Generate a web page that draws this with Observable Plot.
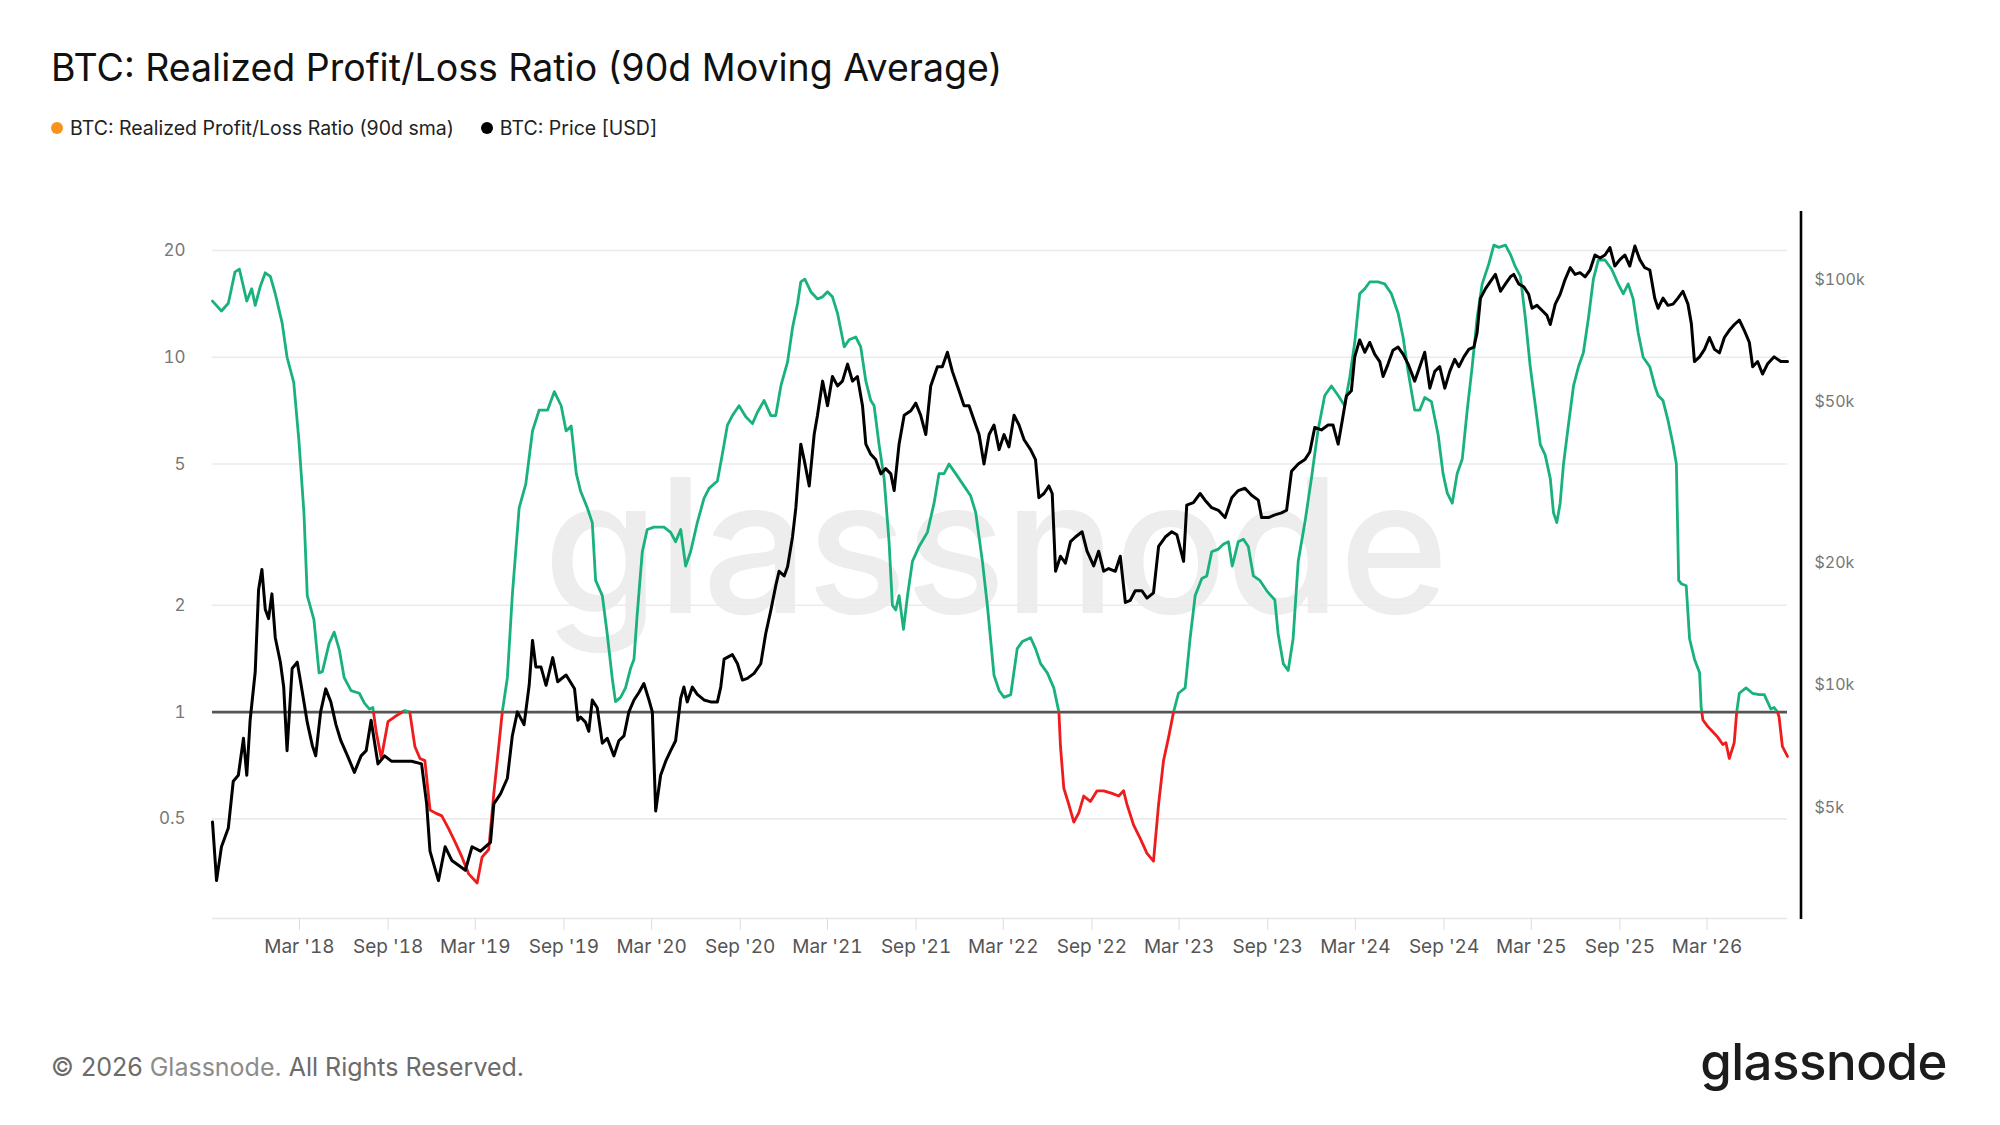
<!DOCTYPE html>
<html>
<head>
<meta charset="utf-8">
<script src="https://cdn.jsdelivr.net/npm/d3@7"></script>
<script src="https://cdn.jsdelivr.net/npm/@observablehq/plot@0.6"></script>
<style>
  html, body { margin: 0; padding: 0; background: #fff; }
  body { width: 2000px; height: 1125px; position: relative; overflow: hidden; font-family: Inter, "Noto Sans", sans-serif; }
  #title { position: absolute; left: 51px; top: 47px; font-size: 37.5px; line-height: 42px; color: #111; font-weight: 400; white-space: nowrap; }
  #legend { position: absolute; left: 51px; top: 116px; font-size: 19.5px; line-height: 24px; color: #222; white-space: nowrap; display: flex; }
  .item { display: flex; align-items: center; margin-right: 27px; }
  .dot { width: 12px; height: 12px; border-radius: 50%; display: inline-block; margin-right: 7px; }
  #watermark { position: absolute; left: 0; width: 1990px; top: 440px; text-align: center; font-size: 187px; line-height: 210px; font-weight: 500; color: #ededed; letter-spacing: -2px; }
  #chart { position: absolute; left: 0; top: 180px; }
  #footer { position: absolute; left: 51px; top: 1052px; font-size: 25px; line-height: 30px; color: #6b6b6b; white-space: nowrap; }
  #footer .gn { color: #8c8c8c; }
  #logo { position: absolute; right: 53px; top: 1030px; font-size: 51px; line-height: 64px; font-weight: 500; color: #1c1c1c; letter-spacing: -0.5px; }
</style>
</head>
<body>
<div id="watermark">glassnode</div>
<div id="title">BTC: Realized Profit/Loss Ratio (90d Moving Average)</div>
<div id="legend">
  <span class="item"><span class="dot" style="background:#f7931a"></span>BTC: Realized Profit/Loss Ratio (90d sma)</span>
  <span class="item"><span class="dot" style="background:#000"></span>BTC: Price [USD]</span>
</div>
<div id="chart"></div>
<div id="footer">© 2026 <span class="gn">Glassnode.</span> All Rights Reserved.</div>
<div id="logo">glassnode</div>
<script>
// ---- Data (time as decimal years) ----
const ratioT = [
2017.667,2017.718,2017.757,2017.795,2017.82,2017.862,2017.89,2017.91,2017.938,2017.967,2017.996,2018.024,2018.063,2018.091,2018.129,2018.158,2018.187,2018.206,2018.244,2018.273,2018.292,2018.33,2018.359,2018.388,2018.416,2018.455,2018.502,2018.531,2018.56,2018.579,2018.598,2018.627,2018.665,2018.703,2018.76,2018.789,2018.818,2018.847,2018.875,2018.904,2018.933,2018.971,2019.009,2019.047,2019.086,2019.124,2019.172,2019.2,2019.238,2019.267,2019.296,2019.315,2019.344,2019.372,2019.411,2019.449,2019.487,2019.525,2019.573,2019.611,2019.65,2019.678,2019.707,2019.736,
2019.76,2019.798,2019.827,2019.846,2019.884,2019.912,2019.94,2019.959,2019.988,2020.016,2020.045,2020.064,2020.082,2020.111,2020.139,2020.177,2020.234,2020.272,2020.3,2020.329,2020.357,2020.385,2020.423,2020.461,2020.49,2020.537,2020.565,2020.594,2020.622,2020.66,2020.698,2020.736,2020.764,2020.802,2020.84,2020.868,2020.897,2020.935,2020.963,2020.992,2021.01,2021.033,2021.067,2021.105,2021.134,2021.162,2021.19,2021.219,2021.257,2021.285,2021.323,2021.351,2021.38,2021.408,2021.427,2021.455,2021.484,2021.512,2021.531,2021.55,2021.569,2021.594,2021.617,2021.645,2021.683,2021.73,2021.768,2021.796,2021.825,2021.853,2021.891,2021.938,2021.976,2022.005,2022.043,2022.071,2022.109,2022.138,2022.166,2022.204,
2022.241,2022.27,2022.317,2022.345,2022.374,2022.412,2022.449,2022.478,2022.487,2022.506,2022.534,2022.563,2022.591,2022.619,2022.657,2022.695,2022.733,2022.78,2022.818,2022.846,2022.865,2022.903,2022.941,2022.979,2023.016,2023.045,2023.073,2023.102,2023.13,2023.158,2023.196,2023.224,2023.253,2023.291,2023.319,2023.347,2023.385,2023.413,2023.442,2023.464,2023.498,2023.527,2023.555,2023.584,2023.621,2023.659,2023.706,2023.725,2023.754,2023.782,2023.81,2023.839,2023.877,2023.914,2023.952,2023.99,2024.028,2024.066,2024.103,2024.132,2024.16,2024.188,2024.217,2024.245,2024.292,2024.33,2024.368,2024.406,2024.434,2024.463,2024.5,2024.529,2024.557,2024.595,2024.633,2024.661,
2024.685,2024.713,2024.741,2024.77,2024.798,2024.826,2024.854,2024.883,2024.92,2024.949,2024.977,2025.015,2025.043,2025.071,2025.1,2025.128,2025.156,2025.185,2025.213,2025.241,2025.27,2025.288,2025.307,2025.326,2025.345,2025.373,2025.402,2025.43,2025.458,2025.487,2025.515,2025.543,2025.581,2025.619,2025.656,2025.685,2025.713,2025.741,2025.77,2025.798,2025.836,2025.864,2025.883,2025.911,2025.939,2025.968,2025.987,2026.0,2026.015,2026.043,2026.062,2026.09,2026.119,2026.128,2026.138,2026.166,2026.194,2026.222,2026.251,2026.269,2026.288,2026.316,2026.33,2026.345,2026.383,2026.42,2026.458,2026.487,2026.524,2026.543,2026.562,2026.571,2026.59,2026.619
];
const ratioV = [
14.4,13.5,14.2,17.4,17.7,14.4,15.6,14.0,15.8,17.3,16.9,15.1,12.5,10.0,8.5,5.86,3.65,2.13,1.82,1.29,1.30,1.56,1.68,1.50,1.25,1.15,1.13,1.06,1.02,1.03,0.88,0.74,0.94,0.97,1.01,1.0,0.80,0.74,0.73,0.53,0.52,0.51,0.47,0.43,0.39,0.35,0.33,0.39,0.41,0.59,0.81,1.0,1.25,2.13,3.76,4.4,6.2,7.1,7.1,8.0,7.3,6.2,6.4,4.7,
4.2,3.77,3.42,2.35,2.13,1.66,1.25,1.07,1.10,1.17,1.33,1.41,1.88,2.83,3.27,3.32,3.32,3.21,3.02,3.27,2.58,2.83,3.42,4.0,4.27,4.48,5.33,6.44,6.85,7.3,6.8,6.5,7.0,7.55,6.85,6.85,8.3,9.7,12.1,14.2,16.3,16.6,15.3,14.6,14.8,15.3,14.8,13.3,10.7,11.2,11.4,10.7,8.56,7.55,7.3,5.68,4.55,3.02,2.0,1.94,2.13,1.71,2.13,2.66,2.93,3.21,3.88,4.7,4.7,5.0,4.7,4.34,4.07,3.65,2.66,2.0,1.27,1.15,1.10,1.12,
1.51,1.58,1.62,1.51,1.37,1.29,1.17,1.0,0.80,0.61,0.55,0.49,0.52,0.58,0.56,0.60,0.60,0.59,0.58,0.60,0.55,0.48,0.44,0.40,0.38,0.55,0.73,0.85,1.0,1.13,1.17,1.61,2.13,2.38,2.42,2.83,2.88,2.97,3.02,2.58,3.02,3.07,2.93,2.42,2.35,2.2,2.07,1.66,1.37,1.31,1.61,2.66,3.42,4.55,6.24,7.8,8.3,7.8,7.3,8.8,11,15.1,15.6,16.3,16.3,16.1,15.1,13.3,11.4,9.1,7.1,7.1,7.7,7.5,6.05,4.7,
4.14,3.88,4.7,5.17,7.1,9.4,12.9,16.1,18.3,20.7,20.4,20.7,19.5,18.0,16.9,12.9,9.4,7.3,5.68,5.3,4.55,3.65,3.42,3.88,5.0,6.44,8.3,9.4,10.3,12.9,16.6,18.8,18.8,17.7,16.1,15.1,16.1,14.6,11.7,10.0,9.4,8.3,7.8,7.55,6.65,5.68,5.0,2.35,2.3,2.27,1.61,1.41,1.29,1.03,0.95,0.91,0.88,0.85,0.81,0.82,0.74,0.82,1.0,1.13,1.17,1.13,1.12,1.12,1.02,1.03,1.0,0.97,0.80,0.75
];

const priceT = [
2017.667,2017.69,2017.718,2017.757,2017.785,2017.814,2017.843,2017.862,2017.881,2017.91,2017.929,2017.948,2017.967,2017.986,2018.005,2018.024,2018.053,2018.072,2018.091,2018.12,2018.149,2018.168,2018.187,2018.206,2018.235,2018.254,2018.282,2018.311,2018.34,2018.369,2018.397,2018.435,2018.474,2018.512,2018.541,2018.569,2018.608,2018.646,2018.684,2018.741,2018.799,2018.856,2018.885,2018.904,2018.952,2018.99,2019.028,2019.066,2019.105,2019.143,2019.191,2019.248,2019.267,2019.305,2019.344,2019.372,2019.401,2019.439,2019.468,2019.487,2019.506,2019.535,2019.564,2019.602,2019.63,2019.678,2019.726,2019.745,
2019.76,2019.789,2019.807,2019.827,2019.855,2019.884,2019.912,2019.95,2019.978,2020.007,2020.035,2020.064,2020.092,2020.12,2020.149,2020.168,2020.187,2020.215,2020.244,2020.272,2020.3,2020.329,2020.347,2020.366,2020.395,2020.423,2020.461,2020.499,2020.537,2020.556,2020.575,2020.622,2020.651,2020.679,2020.707,2020.745,2020.783,2020.811,2020.84,2020.868,2020.887,2020.916,2020.935,2020.963,2020.982,2021.01,2021.029,2021.058,2021.086,2021.105,2021.134,2021.162,2021.19,2021.219,2021.247,2021.276,2021.304,2021.332,2021.361,2021.38,2021.408,2021.436,2021.465,2021.493,2021.522,2021.541,2021.569,2021.598,2021.636,2021.664,2021.692,2021.721,2021.749,2021.787,2021.815,2021.844,2021.872,2021.91,2021.938,2021.967,2021.995,2022.024,2022.052,2022.081,2022.109,2022.138,2022.166,2022.194,2022.223,2022.251,2022.28,2022.317,
2022.345,2022.364,2022.393,2022.421,2022.44,2022.459,2022.487,2022.515,2022.544,2022.572,2022.61,2022.638,2022.676,2022.704,2022.733,2022.761,2022.799,2022.827,2022.856,2022.884,2022.912,2022.95,2022.979,2023.016,2023.045,2023.083,2023.12,2023.149,2023.187,2023.205,2023.243,2023.281,2023.309,2023.347,2023.385,2023.423,2023.461,2023.498,2023.536,2023.574,2023.612,2023.631,2023.669,2023.706,2023.744,2023.773,2023.801,2023.839,2023.877,2023.905,2023.933,2023.971,2024.009,2024.037,2024.066,2024.085,2024.113,2024.141,2024.16,2024.188,2024.217,2024.245,2024.273,2024.302,2024.321,2024.349,2024.377,2024.406,2024.434,2024.463,2024.5,2024.529,2024.557,2024.586,2024.614,2024.642,2024.671,2024.699,2024.727,
2024.751,2024.779,2024.807,2024.836,2024.854,2024.873,2024.902,2024.93,2024.958,2024.987,2025.015,2025.043,2025.062,2025.09,2025.119,2025.147,2025.166,2025.194,2025.222,2025.251,2025.27,2025.298,2025.326,2025.354,2025.383,2025.411,2025.439,2025.468,2025.496,2025.524,2025.553,2025.581,2025.609,2025.637,2025.666,2025.694,2025.722,2025.751,2025.779,2025.807,2025.836,2025.864,2025.883,2025.911,2025.939,2025.968,2025.996,2026.024,2026.053,2026.072,2026.09,2026.119,2026.147,2026.175,2026.204,2026.232,2026.26,2026.288,2026.317,2026.345,2026.373,2026.402,2026.421,2026.449,2026.477,2026.505,2026.543,2026.581,2026.619
];
// BTC price in thousands of USD
const priceK = [
4.6,3.3,4.0,4.45,5.8,6.0,7.4,6.0,8.2,10.8,17.2,19.3,15.4,14.6,16.8,13.1,11.4,9.9,6.9,11.0,11.4,10.2,9.1,8.1,7.1,6.7,8.6,9.8,9.1,8.0,7.3,6.7,6.1,6.7,6.9,8.2,6.4,6.7,6.5,6.5,6.5,6.4,5.1,3.9,3.3,4.0,3.7,3.6,3.5,4.0,3.9,4.1,5.1,5.4,5.9,7.5,8.6,8.0,10.0,12.9,11.1,11.1,10.0,11.7,10.2,10.6,9.8,8.2,
8.35,8.1,7.7,9.2,8.8,7.2,7.4,6.7,7.3,7.5,8.6,9.2,9.6,10.1,9.2,8.6,4.9,6.0,6.5,6.9,7.3,9.3,9.9,9.1,9.9,9.5,9.2,9.1,9.1,9.9,11.6,11.9,11.3,10.3,10.4,10.7,11.3,13.4,15.3,17.6,19.1,18.6,19.6,23.2,27.4,39.3,36,31,41.5,46.3,56.2,48.9,57.7,54.7,56.2,61.9,56.2,57.7,48.9,39.3,37.1,36,33.2,34.2,33.2,30.2,39.3,46.3,47.5,49.6,46.3,41.5,54.7,61,61,66.2,59.4,53.2,48.9,48.9,45.1,41.5,35.1,41.5,43.8,38.1,41.5,38.7,46.3,43.8,40.3,38.1,
36,29,29.7,31,29.7,19.1,20.8,20.0,22.6,23.2,23.9,21.4,19.7,21.4,19.1,19.4,19.1,20.8,16.0,16.2,17.1,17.1,16.4,16.9,22.0,23.2,23.9,23.5,20.2,27.8,28.2,29.7,28.6,27.4,27.0,25.9,29.0,30.2,30.6,29.4,28.6,25.9,25.9,26.3,26.6,27.0,33.7,35.1,36.0,37.6,43.2,42.6,43.8,43.8,39.3,43.8,51.7,53.2,64.5,71,66.2,70,65.5,62.8,57.7,61.9,67,68.2,65.5,61.9,56.2,61,66.2,54,59.4,61,54,59.4,63.6,
61,64.5,67.3,68.2,74,89.9,95,99,103,93.6,97.6,101.6,103,97.6,96,92,85,86.4,84,81.6,77.5,87,92,100,107,103,104,101.6,105.6,115,113,115,120,108,112,115,108,121,112,107,105.6,90,85,90,86.4,87,90,93.6,87,78,62.8,64.5,67.3,72,67.3,66,72,75,77.5,79.5,75,70,61,62.8,58.5,61.9,64.5,62.8,62.8
];

const leftTicks = [0.5, 1, 2, 5, 10, 20];
const priceTickValues = [5000, 10000, 20000, 50000, 100000];
const priceTickLabels = ["$5k", "$10k", "$20k", "$50k", "$100k"];
const xTickDates = ["2018-03-01","2018-09-01","2019-03-01","2019-09-01","2020-03-01","2020-09-01","2021-03-01","2021-09-01","2022-03-01","2022-09-01","2023-03-01","2023-09-01","2024-03-01","2024-09-01","2025-03-01","2025-09-01","2026-03-01"];

// ---- helpers ----
const GREEN = "#19b27b", RED = "#ee1c1c";
function toDate(y) {
  const yr = Math.floor(y);
  const a = Date.UTC(yr, 0, 1), b = Date.UTC(yr + 1, 0, 1);
  return new Date(a + (y - yr) * (b - a));
}
// map a USD price onto the ratio (left) scale so the right axis aligns
function priceToR(p) {
  return Math.pow(2, 0.251 + 1.1433 * Math.log2(p / 10000));
}

const ratio = ratioT.map((t, i) => ({date: toDate(t), v: ratioV[i]}));
const price = priceT.map((t, i) => ({date: toDate(t), p: priceK[i] * 1000}));

// split ratio line into segments above/below 1
const segs = [];
let seg = 0;
ratio.forEach((cur, i) => {
  const above = cur.v >= 1;
  if (i > 0) {
    const prev = ratio[i - 1];
    const prevAbove = prev.v >= 1;
    if (above !== prevAbove) {
      const f = (0 - Math.log(prev.v)) / (Math.log(cur.v) - Math.log(prev.v));
      const d = new Date(+prev.date + f * (cur.date - prev.date));
      segs.push({date: d, v: 1, seg, up: prevAbove});
      seg++;
      segs.push({date: d, v: 1, seg, up: above});
    }
  }
  segs.push({date: cur.date, v: cur.v, seg, up: above});
});

const xTicks = xTickDates.map(d => new Date(d + "T00:00:00Z"));
const priceTickR = priceTickValues.map(priceToR);
const fmtX = d3.utcFormat("%b '%y");

const W = 2000, H = 800;
const chart = Plot.plot({
  width: W,
  height: H,
  marginTop: 31,
  marginBottom: 62,
  marginLeft: 212,
  marginRight: 213,
  style: {background: "transparent", fontFamily: "Inter, 'Noto Sans', sans-serif", overflow: "visible"},
  x: {type: "utc", domain: [toDate(ratioT[0]), toDate(ratioT[ratioT.length - 1])]},
  y: {type: "log", domain: [0.262, 25.75]},
  marks: [
    Plot.gridY([0.5, 2, 5, 10, 20], {stroke: "#ebebeb", strokeOpacity: 1, strokeWidth: 1.6}),
    Plot.ruleY([0.262], {stroke: "#e6e6e6", strokeWidth: 1.6}),
    Plot.axisX(xTicks, {tickSize: 12, tickPadding: 9, tickFormat: fmtX, stroke: "#dcdcdc", fill: "#555", fontSize: 19, label: null}),
    Plot.axisY(leftTicks, {anchor: "left", tickSize: 0, tickPadding: 27, tickFormat: d => String(d), fill: "#777", fontSize: 17, label: null}),
    Plot.axisY(priceTickR, {anchor: "right", tickSize: 0, tickPadding: 27, fill: "#777", fontSize: 16, label: null,
      tickFormat: d => {
        let best = 0;
        priceTickR.forEach((v, i) => { if (Math.abs(v - d) < Math.abs(priceTickR[best] - d)) best = i; });
        return priceTickLabels[best];
      }}),
    Plot.ruleY([1], {stroke: "#555", strokeWidth: 2.6}),
    Plot.line(segs.filter(d => d.up), {x: "date", y: "v", z: "seg", stroke: GREEN, strokeWidth: 2.8}),
    Plot.line(segs.filter(d => !d.up), {x: "date", y: "v", z: "seg", stroke: RED, strokeWidth: 2.8}),
    Plot.line(price, {x: "date", y: d => priceToR(d.p), stroke: "#000", strokeWidth: 3})
  ]
});

// right-hand price axis line
const xr = W - 213 + 14;
d3.select(chart).append("line")
  .attr("x1", xr).attr("x2", xr)
  .attr("y1", 31).attr("y2", H - 62 + 1)
  .attr("stroke", "#000").attr("stroke-width", 2.6);

document.getElementById("chart").appendChild(chart);
</script>
</body>
</html>
